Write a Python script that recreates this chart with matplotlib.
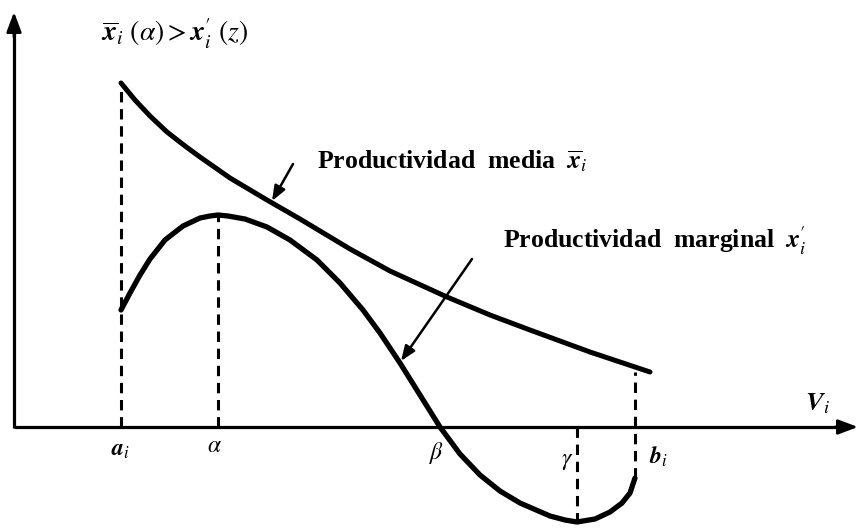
import matplotlib.pyplot as plt

plt.rcParams['mathtext.fontset'] = 'stix'

# curve samples: horizontal position and height above the V_i axis
media_x = [121, 135, 150, 167, 185, 200, 230, 267, 300, 330, 350, 390, 447, 490, 530, 590, 650]
media_y = [344, 327, 311, 295, 281, 270, 249, 227, 208, 190, 178, 156, 130, 112, 97, 75, 55]

marginal_x = [121, 130, 140, 150, 165, 183, 200, 210, 218, 228, 245, 267, 290, 317, 340, 363,
              380, 400, 420, 440, 460, 480, 500, 520, 550, 565, 577, 595, 610, 622, 630, 635]
marginal_y = [117, 134, 152, 168, 187, 201, 209, 211, 212, 211, 208, 200, 187, 167, 144, 117,
              94, 64, 32, 0, -27, -48, -64, -76, -89, -93, -95, -92, -85, -76, -66, -51]

# marked points on the axis: label, position
points = [r'$\mathbfit{a}_i$', r'$\alpha$', r'$\beta$', r'$\gamma$', r'$\mathbfit{b}_i$']
points_x = [121, 218, 440, 577, 635]

fig = plt.figure(figsize=(8.59, 5.28), dpi=100)
ax = fig.add_axes([0, 0, 1, 1])
ax.set_xlim(0, 859)
ax.set_ylim(-101, 427)
ax.axis('off')

# axes with arrow heads
ax.plot([14, 845], [0, 0], color='black', lw=2.3, solid_capstyle='butt')
ax.plot([14, 14], [-1, 400], color='black', lw=2.3, solid_capstyle='butt')
ax.annotate('', xy=(858, 0), xytext=(835, 0),
            arrowprops=dict(arrowstyle='-|>,head_length=1.2,head_width=0.45',
                            color='black', lw=2, shrinkA=0, shrinkB=0))
ax.annotate('', xy=(14, 415), xytext=(14, 390),
            arrowprops=dict(arrowstyle='-|>,head_length=1.2,head_width=0.45',
                            color='black', lw=2, shrinkA=0, shrinkB=0))

# the two productivity curves
ax.plot(media_x, media_y, color='black', lw=3.6, solid_capstyle='round', solid_joinstyle='round')
ax.plot(marginal_x, marginal_y, color='black', lw=3.8, solid_capstyle='round', solid_joinstyle='round')

# dashed guides down/up to the axis
dash = dict(color='black', lw=2.2, dashes=(3.4, 2.2))
ax.plot([points_x[0]] * 2, [0, media_y[0]], **dash)
ax.plot([points_x[1]] * 2, [0, max(marginal_y)], **dash)
ax.plot([points_x[3]] * 2, [0, min(marginal_y)], **dash)
ax.plot([points_x[4]] * 2, [marginal_y[-1], 55], **dash)

# point labels
label_pos = [(121, -22), (214, -18), (437, -26), (567, -33), (658, -30)]
for lab, (lx, ly) in zip(points, label_pos):
    ax.text(lx, ly, lab, fontsize=17, ha='center', va='center')

ax.text(817, 24, r'$\mathbfit{V}_i$', fontsize=19, ha='center', va='center')
ax.text(101, 385, r"$\overline{\mathbfit{x}}_i\ (\alpha) > \mathbfit{x}_i^{\prime}\ (z)$", fontsize=20,
        ha='left', va='baseline')

# curve annotations
txt = dict(fontsize=18.5, family='Liberation Serif', fontweight='bold', va='baseline', ha='left')
ax.text(317, 259, r'Productividad  media  $\overline{\mathbfit{x}}_i$', **txt)
ax.text(503, 179, r"Productividad  marginal  $\mathbfit{x}_i^{\prime}$", **txt)

arrow = dict(arrowstyle='-|>,head_length=0.9,head_width=0.35', color='black', lw=1.8,
             shrinkA=0, shrinkB=0)
ax.annotate('', xy=(272, 226), xytext=(293, 263), arrowprops=arrow)
ax.annotate('', xy=(401, 66), xytext=(472, 168), arrowprops=arrow)

fig.savefig('out.png', dpi=100, facecolor='white')
